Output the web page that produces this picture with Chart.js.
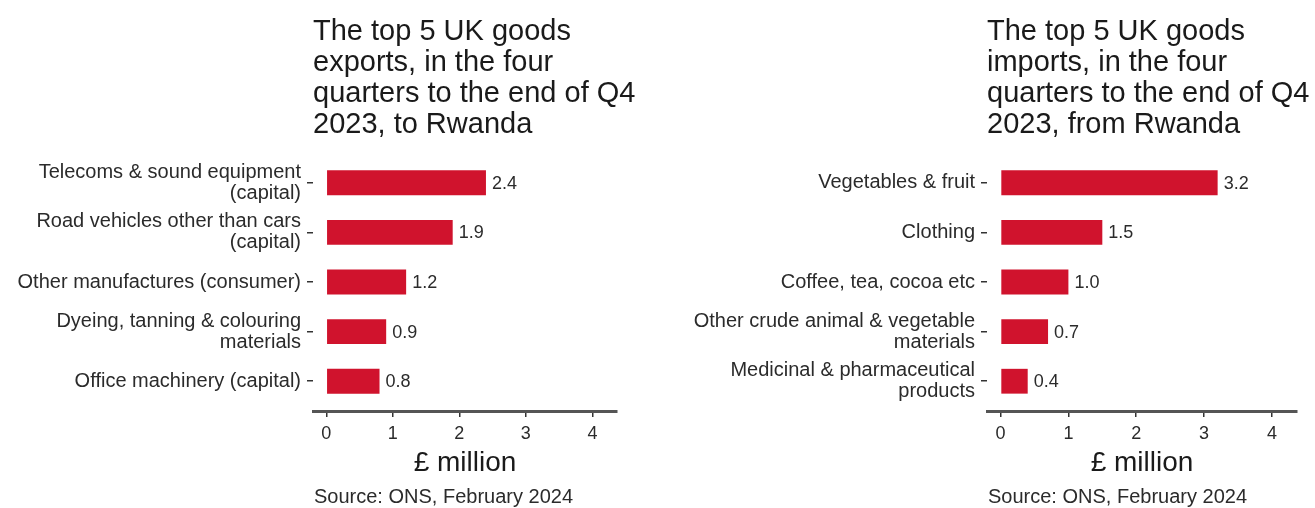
<!DOCTYPE html>
<html>
<head>
<meta charset="utf-8">
<script src="https://cdn.jsdelivr.net/npm/chart.js@4.4.1/dist/chart.umd.min.js"></script>
<style>
  html, body { margin: 0; padding: 0; background: #ffffff; }
  #wrap { position: relative; width: 1315px; height: 508px; overflow: hidden; background: #fff; }
  .panel { position: absolute; top: 0; }
</style>
</head>
<body>
<div id="wrap">
  <div class="panel" style="left:0px;"><canvas id="exp" width="657" height="508"></canvas></div>
  <div class="panel" style="left:657px;"><canvas id="imp" width="658" height="508"></canvas></div>
</div>
<script>
// ---------------- data ----------------
const exportTitle = ["The top 5 UK goods", "exports, in the four", "quarters to the end of Q4", "2023, to Rwanda"];
const exportCategories = [
  ["Telecoms & sound equipment", "(capital)"],
  ["Road vehicles other than cars", "(capital)"],
  ["Other manufactures (consumer)"],
  ["Dyeing, tanning & colouring", "materials"],
  ["Office machinery (capital)"]
];
const exportValues = [2.4, 1.9, 1.2, 0.9, 0.8];

const importTitle = ["The top 5 UK goods", "imports, in the four", "quarters to the end of Q4", "2023, from Rwanda"];
const importCategories = [
  ["Vegetables & fruit"],
  ["Clothing"],
  ["Coffee, tea, cocoa etc"],
  ["Other crude animal & vegetable", "materials"],
  ["Medicinal & pharmaceutical", "products"]
];
const importValues = [3.2, 1.5, 1.0, 0.7, 0.4];

const xTickValues = [0, 1, 2, 3, 4];
const xAxisTitle = "£ million";
const sourceText = "Source: ONS, February 2024";

// ---------------- styling ----------------
const FONT = '"Liberation Sans", Arial, Helvetica, sans-serif';
const BAR_COLOR = '#d0132d';
const TEXT_DARK = '#1a1a1a';
const TEXT_MID = '#2b2b2b';

const textPlugin = {
  id: 'extraTexts',
  afterDraw(chart, args, opts) {
    const ctx = chart.ctx;
    const area = chart.chartArea;
    ctx.save();
    // title
    ctx.fillStyle = TEXT_DARK;
    ctx.textAlign = 'left';
    ctx.textBaseline = 'alphabetic';
    ctx.font = '29px ' + FONT;
    opts.title.forEach((line, i) => ctx.fillText(line, area.left, 40 + i * 31));
    // source
    ctx.font = '20px ' + FONT;
    ctx.fillStyle = TEXT_MID;
    ctx.fillText(opts.source, area.left + 1, 503);
    // value labels
    const meta = chart.getDatasetMeta(0);
    const ds = chart.data.datasets[0].data;
    ctx.font = '18px ' + FONT;
    ctx.textBaseline = 'middle';
    ctx.fillStyle = TEXT_MID;
    meta.data.forEach((bar, i) => {
      ctx.fillText(ds[i].x.toFixed(1), bar.x + 6, bar.y + 1);
    });
    ctx.restore();
  }
};

function makeChart(canvasId, cats, vals, title, yAxisWidth, padRight) {
  const ctx = document.getElementById(canvasId).getContext('2d');
  return new Chart(ctx, {
    type: 'bar',
    data: {
      datasets: [{
        data: vals.map((v, i) => ({ x: v, y: i })),
        backgroundColor: BAR_COLOR,
        borderWidth: 0,
        barPercentage: 0.5,
        categoryPercentage: 1.0
      }]
    },
    plugins: [textPlugin],
    options: {
      responsive: false,
      animation: false,
      indexAxis: 'y',
      layout: { padding: { top: 153, right: padRight, bottom: 0, left: 0 } },
      plugins: {
        legend: { display: false },
        tooltip: { enabled: false },
        title: { display: false },
        extraTexts: { title: title, source: sourceText }
      },
      scales: {
        x: {
          type: 'linear',
          position: 'bottom',
          min: -0.2,
          max: 4.37,
          afterBuildTicks: (s) => { s.ticks = xTickValues.map(v => ({ value: v })); },
          afterFit: (s) => { s.height = 97; },
          grid: { drawOnChartArea: false, drawTicks: true, tickLength: 6, color: '#333333', lineWidth: 1.5 },
          border: { display: true, color: '#555555', width: 3 },
          ticks: { font: { family: FONT, size: 18 }, color: TEXT_MID, padding: 6, maxRotation: 0 },
          title: { display: true, text: xAxisTitle, font: { family: FONT, size: 28 }, color: TEXT_DARK, padding: { top: 0, bottom: 28 } }
        },
        y: {
          type: 'linear',
          reverse: true,
          offset: false,
          min: -0.6,
          max: 4.6,
          afterBuildTicks: (s) => { s.ticks = cats.map((c, i) => ({ value: i })); },
          afterFit: (s) => { s.width = yAxisWidth; },
          grid: { offset: false, drawOnChartArea: false, drawTicks: true, tickLength: 6, color: '#333333', lineWidth: 1.5 },
          border: { display: false },
          ticks: {
            autoSkip: false,
            font: { family: FONT, size: 20, lineHeight: 1.05 },
            color: TEXT_MID,
            padding: 6,
            callback: (v) => cats[v]
          }
        }
      }
    }
  });
}

makeChart('exp', exportCategories, exportValues, exportTitle, 313, 40);
makeChart('imp', importCategories, importValues, importTitle, 330, 18);
</script>
</body>
</html>
